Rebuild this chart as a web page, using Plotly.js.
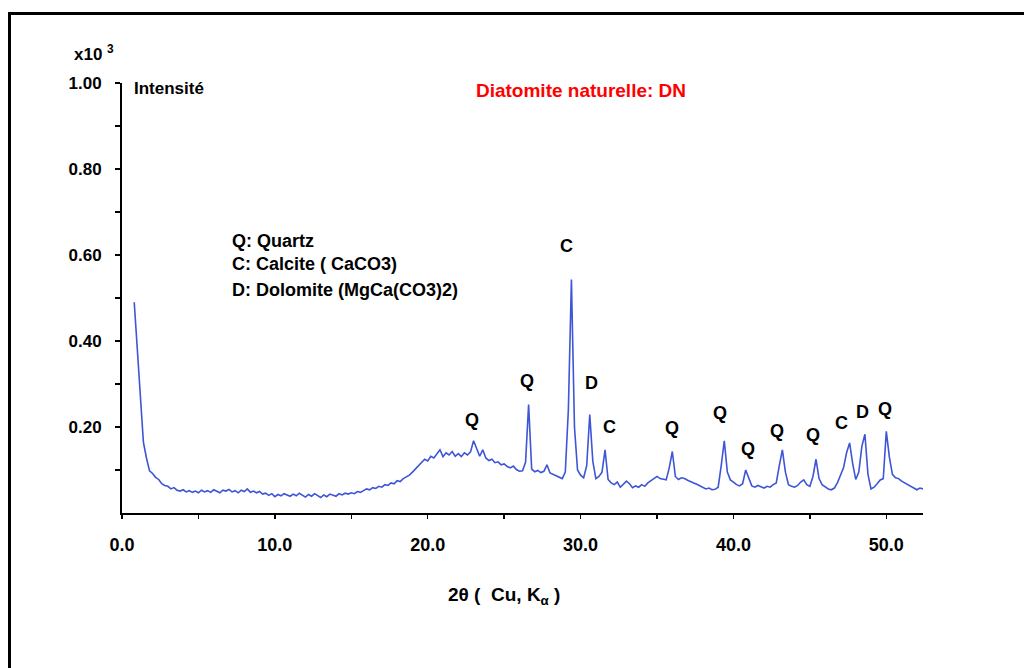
<!DOCTYPE html>
<html>
<head>
<meta charset="utf-8">
<script src="https://cdn.plot.ly/plotly-3.0.1.min.js"></script>
<style>
  html, body { margin: 0; padding: 0; background: #fff; }
  #wrap { position: relative; width: 1024px; height: 668px; overflow: hidden; }
  #chart { position: absolute; left: 0; top: 0; width: 1024px; height: 668px; }
  #frame { position: absolute; left: 8px; top: 12px; width: 1030px; height: 700px;
           border-left: 3px solid #000; border-top: 3px solid #000; pointer-events: none; }
</style>
</head>
<body>
<div id="wrap"><div id="chart"></div><div id="frame"></div></div>
<script>
// ---- data (intensity in units of 10^3 counts) ----
const twoThetaStart = 0.8;
const twoThetaStep = 0.2;
const intensity = [
  0.490,0.380,0.260,0.165,0.128,0.098,0.092,0.083,0.078,0.068,
  0.064,0.062,0.056,0.059,0.053,0.051,0.054,0.049,0.052,0.048,
  0.051,0.047,0.053,0.049,0.052,0.048,0.054,0.050,0.047,0.053,
  0.051,0.055,0.049,0.052,0.047,0.053,0.050,0.056,0.048,0.051,
  0.047,0.050,0.044,0.046,0.041,0.045,0.038,0.043,0.040,0.045,
  0.042,0.039,0.044,0.040,0.046,0.041,0.037,0.043,0.039,0.045,
  0.040,0.036,0.042,0.038,0.044,0.041,0.039,0.045,0.042,0.046,
  0.044,0.047,0.045,0.050,0.048,0.052,0.056,0.054,0.059,0.057,
  0.062,0.060,0.066,0.064,0.070,0.068,0.075,0.073,0.080,0.084,
  0.088,0.095,0.103,0.110,0.118,0.125,0.121,0.132,0.128,0.139,
  0.147,0.131,0.140,0.135,0.143,0.132,0.138,0.131,0.140,0.135,
  0.142,0.168,0.150,0.132,0.147,0.128,0.122,0.125,0.117,0.119,
  0.112,0.114,0.108,0.105,0.109,0.101,0.097,0.098,0.118,0.252,
  0.102,0.096,0.099,0.094,0.097,0.112,0.093,0.090,0.086,0.083,
  0.080,0.095,0.240,0.543,0.200,0.100,0.088,0.082,0.110,0.229,
  0.120,0.080,0.085,0.095,0.147,0.078,0.070,0.066,0.072,0.060,
  0.066,0.074,0.068,0.059,0.063,0.060,0.066,0.062,0.070,0.075,
  0.078,0.085,0.080,0.079,0.077,0.105,0.143,0.085,0.078,0.082,
  0.080,0.076,0.072,0.070,0.067,0.063,0.060,0.056,0.058,0.054,
  0.055,0.060,0.110,0.168,0.095,0.077,0.072,0.066,0.063,0.068,
  0.100,0.082,0.063,0.060,0.064,0.061,0.058,0.062,0.060,0.066,
  0.070,0.110,0.147,0.095,0.066,0.062,0.060,0.064,0.072,0.077,
  0.066,0.062,0.085,0.125,0.080,0.066,0.060,0.056,0.054,0.058,
  0.070,0.090,0.105,0.140,0.163,0.115,0.078,0.095,0.155,0.183,
  0.090,0.056,0.060,0.068,0.077,0.080,0.190,0.130,0.090,0.082,
  0.080,0.074,0.070,0.066,0.062,0.058,0.054,0.058,0.056
];

// peak identification labels
const peakLabels = ['Q','Q','C','D','C','Q','Q','Q','Q','Q','C','D','Q'];
const peakTheta  = [22.87,26.5,29.08,30.72,31.87,35.95,39.1,40.95,42.85,45.2,47.06,48.43,49.89];
const peakLabelY = [0.217,0.306,0.620,0.302,0.201,0.198,0.233,0.149,0.190,0.182,0.209,0.236,0.242];

// axis ticks
const yTickVals  = [0.2,0.4,0.6,0.8,1.0];
const yTickText  = ['0.20','0.40','0.60','0.80','1.00'];
const xTickVals  = [0,10,20,30,40,50];
const xTickText  = ['0.0','10.0','20.0','30.0','40.0','50.0'];

const legendLines = ['Q: Quartz','C: Calcite ( CaCO3)','D: Dolomite (MgCa(CO3)2)'];
const titleText = 'Diatomite naturelle: DN';

// ---- build ----
const twoTheta = intensity.map((_, i) => +(twoThetaStart + i * twoThetaStep).toFixed(1));

const FONT = '"Liberation Sans Narrow", "Arial Narrow", "Liberation Sans", Arial, sans-serif';
const ML = 122, MR = 101, MT = 83, MB = 155, W = 1024, H = 668;
const PW = W - ML - MR, PH = H - MT - MB;
const px = x => (x - ML) / PW;           // pixel -> paper x
const py = y => (H - MB - y) / PH;       // pixel -> paper y

const annotations = [];
peakLabels.forEach((t, i) => annotations.push({
  x: peakTheta[i], y: peakLabelY[i], xref: 'x', yref: 'y', text: t, showarrow: false,
  font: { family: FONT, size: 18, color: '#000', weight: 'bold' }
}));
legendLines.forEach((t, i) => annotations.push({
  x: px(230), y: py([240.5, 264, 290][i]), xref: 'paper', yref: 'paper', xanchor: 'left', yanchor: 'middle',
  text: t, showarrow: false, font: { family: FONT, size: 18, color: '#000', weight: 'bold' }
}));
annotations.push({
  x: px(72), y: py(53), xref: 'paper', yref: 'paper', xanchor: 'left', yanchor: 'middle',
  text: 'x10 <sup>3</sup>', showarrow: false, font: { family: FONT, size: 17, color: '#000', weight: 'bold' }
});
annotations.push({
  x: px(132), y: py(89), xref: 'paper', yref: 'paper', xanchor: 'left', yanchor: 'middle',
  text: 'Intensité', showarrow: false, font: { family: FONT, size: 17, color: '#000', weight: 'bold' }
});
annotations.push({
  x: px(504), y: py(596), xref: 'paper', yref: 'paper', xanchor: 'center', yanchor: 'middle',
  text: '2θ (  Cu, K<sub>α</sub> )', showarrow: false, font: { family: FONT, size: 19, color: '#000', weight: 'bold' }
});

const trace = {
  x: twoTheta, y: intensity, type: 'scatter', mode: 'lines',
  line: { color: '#3d55d6', width: 1.6 }, hoverinfo: 'x+y'
};

const layout = {
  width: W, height: H,
  margin: { l: ML, r: MR, t: MT, b: MB, pad: 0 },
  paper_bgcolor: '#fff', plot_bgcolor: '#fff',
  showlegend: false,
  title: {
    text: titleText, xref: 'container', yref: 'container',
    x: 581 / W, xanchor: 'center', y: 1 - 90 / H, yanchor: 'middle',
    font: { family: FONT, size: 19, color: '#ff0000', weight: 'bold' }
  },
  xaxis: {
    range: [0, 52.4], showgrid: false, zeroline: false,
    showline: true, linecolor: '#000', linewidth: 2,
    ticks: 'outside', ticklen: 4, tickwidth: 1.5, tickcolor: '#000',
    tickvals: xTickVals, ticktext: xTickText, ticklabelstandoff: 10,
    tickfont: { family: FONT, size: 18, color: '#000', weight: 'bold' },
    minor: { tickvals: [5,15,25,35,45], ticks: 'outside', ticklen: 4, tickwidth: 1.5, tickcolor: '#000', showgrid: false },
    fixedrange: true
  },
  yaxis: {
    range: [0, 1.0], showgrid: false, zeroline: false,
    showline: true, linecolor: '#000', linewidth: 2,
    ticks: 'outside', ticklen: 5, tickwidth: 1.5, tickcolor: '#000',
    tickvals: yTickVals, ticktext: yTickText, ticklabelstandoff: 10,
    tickfont: { family: FONT, size: 17, color: '#000', weight: 'bold' },
    minor: { tickvals: [0.1,0.3,0.5,0.7,0.9], ticks: 'outside', ticklen: 5, tickwidth: 1.5, tickcolor: '#000', showgrid: false },
    fixedrange: true
  },
  annotations: annotations
};

Plotly.newPlot('chart', [trace], layout, { displayModeBar: false, staticPlot: true });
</script>
</body>
</html>
